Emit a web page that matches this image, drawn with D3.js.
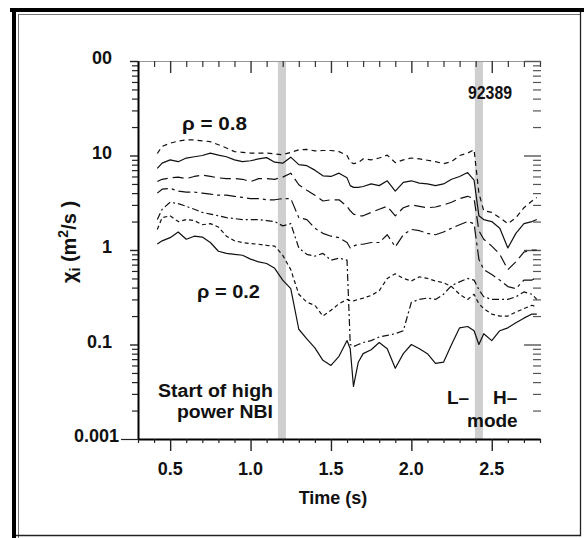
<!DOCTYPE html>
<html><head><meta charset="utf-8">
<script src="https://cdn.jsdelivr.net/npm/d3@7"></script>
<style>
body{margin:0;background:#fff}
svg{display:block}
text{font-family:"Liberation Sans",Arial,sans-serif;font-weight:bold;fill:#111}
</style>
</head><body><svg id="c" width="584" height="538"></svg>
<script>
// time grid (s)
const times=[0.42,0.45,0.50,0.55,0.60,0.65,0.70,0.75,0.80,0.85,0.90,0.95,1.00,1.05,1.10,1.15,1.20,1.25,1.30,1.35,1.40,1.45,1.50,1.55,1.60,1.62,1.64,1.67,1.70,1.75,1.80,1.85,1.90,1.95,2.00,2.05,2.10,2.15,2.20,2.25,2.30,2.35,2.39,2.42,2.45,2.50,2.55,2.60,2.65,2.70,2.75,2.78];
// chi_i (m^2/s) for each radius, top (rho=0.8) to bottom (rho=0.2)
const chiRho08=[10.5,12.5,13.5,14.2,14.6,14.6,14.3,14.0,13.0,12.0,11.0,10.8,10.6,10.6,10.6,10.4,10.2,10.8,11.5,11.6,11.2,11.3,11.3,11.0,10.0,8.6,8.2,8.4,9.2,9.0,9.4,10.1,8.4,9.0,9.4,9.2,8.9,8.6,8.2,8.6,10.0,10.6,11.5,4.0,2.6,2.5,2.2,1.9,2.2,2.8,3.3,3.6];
const chiRho07=[7.3,8.3,9.0,8.6,9.4,9.7,10.0,10.6,10.1,9.7,9.0,8.6,8.8,9.2,9.5,8.5,8.3,9.6,8.0,7.8,7.0,6.1,6.0,6.5,5.8,4.8,4.6,4.6,4.7,5.0,4.8,5.4,4.2,5.2,5.4,5.1,5.0,4.8,5.0,5.6,6.0,6.6,5.5,2.3,2.1,2.0,1.7,1.05,1.5,1.9,2.0,2.1];
const chiRho06=[5.3,5.6,5.8,5.9,5.7,6.0,6.2,6.0,5.8,5.7,5.7,5.6,5.3,5.7,5.7,5.6,5.9,6.5,4.9,4.3,3.8,3.3,3.4,3.4,2.9,2.6,2.4,2.3,2.3,2.5,2.7,2.9,2.3,2.8,3.0,2.9,2.8,2.85,3.0,3.2,3.5,3.7,3.5,1.6,1.3,1.1,0.9,0.62,0.75,0.95,1.0,1.0];
const chiRho05=[4.0,4.4,4.5,4.2,4.1,4.1,4.0,3.9,3.8,3.8,3.7,3.6,3.5,3.5,3.4,3.4,3.5,3.5,2.2,2.1,1.7,1.5,1.4,1.35,1.2,1.05,1.1,1.15,1.15,1.2,1.2,1.45,1.08,1.45,1.65,1.6,1.5,1.45,1.55,1.7,1.85,2.0,1.9,0.8,0.62,0.55,0.48,0.41,0.39,0.48,0.48,0.52];
const chiRho04=[2.1,2.7,3.2,3.1,2.9,2.7,2.5,2.4,2.3,2.2,2.15,2.1,2.1,2.1,2.05,2.0,1.8,1.9,1.05,0.9,0.86,0.92,0.78,0.82,0.78,0.10,0.095,0.10,0.105,0.11,0.12,0.125,0.13,0.14,0.28,0.30,0.31,0.30,0.34,0.42,0.46,0.50,0.48,0.38,0.32,0.30,0.30,0.30,0.32,0.36,0.34,0.30];
const chiRho03=[1.65,2.2,2.3,2.0,2.1,2.05,1.85,1.9,1.75,1.4,1.25,1.2,1.17,1.15,1.12,1.1,0.88,0.62,0.34,0.28,0.26,0.20,0.23,0.27,0.30,0.29,0.29,0.30,0.31,0.33,0.37,0.50,0.56,0.50,0.47,0.52,0.50,0.47,0.45,0.41,0.34,0.30,0.34,0.27,0.24,0.21,0.20,0.20,0.22,0.24,0.26,0.25];
const chiRho02=[1.16,1.25,1.35,1.55,1.3,1.4,1.37,1.2,0.97,0.92,0.90,0.88,0.80,0.75,0.72,0.64,0.48,0.39,0.145,0.115,0.092,0.068,0.06,0.075,0.11,0.09,0.036,0.065,0.08,0.088,0.105,0.09,0.056,0.08,0.10,0.09,0.08,0.063,0.065,0.10,0.15,0.155,0.14,0.10,0.13,0.11,0.14,0.15,0.17,0.19,0.21,0.21];
const seriesList=[chiRho08,chiRho07,chiRho06,chiRho05,chiRho04,chiRho03,chiRho02];
const dashList=["5,4",null,"11,5","12,4,3,4","7,3,2,3","4,3",null];

const yTickVals=[100,10,1,0.1,0.01];
const yTickLabels=["00","10","1","0.1","0.001"];
const xTickVals=[0.5,1.0,1.5,2.0,2.5];
const xTickLabels=["0.5","1.0","1.5","2.0","2.5"];
const bands=[[1.17,1.22],[2.395,2.445]];

const svg=d3.select("#c");
// frame
svg.append("rect").attr("x",10).attr("y",8).attr("width",574).attr("height",4).attr("fill","#000");
svg.append("rect").attr("x",12).attr("y",8).attr("width",4).attr("height",530).attr("fill","#000");
svg.append("line").attr("x1",18.5).attr("x2",18.5).attr("y1",14).attr("y2",538).attr("stroke","#777").attr("stroke-width",1);
svg.append("line").attr("x1",18).attr("x2",580).attr("y1",14.5).attr("y2",14.5).attr("stroke","#777").attr("stroke-width",1);
svg.append("line").attr("x1",580.5).attr("x2",580.5).attr("y1",12).attr("y2",536).attr("stroke","#222").attr("stroke-width",1.3);
svg.append("line").attr("x1",16).attr("x2",581).attr("y1",535.5).attr("y2",535.5).attr("stroke","#222").attr("stroke-width",1.3);

const x=d3.scaleLinear().domain([0.3,2.8]).range([138,540]);
const y=d3.scaleLog().domain([0.01,100]).range([439,61]);

// bands
svg.append("g").selectAll("rect").data(bands).join("rect")
  .attr("x",d=>x(d[0])).attr("width",d=>x(d[1])-x(d[0]))
  .attr("y",61).attr("height",439-61).attr("fill","#cfcfcf");

// ticks
const tenths=d3.range(3,29).map(i=>i/10);
const minorX=tenths.filter(v=>Math.abs(v*2-Math.round(v*2))>1e-6);
const decades=[0.01,0.1,1,10];
const minorY=[];decades.forEach(d=>{for(let m=2;m<=9;m++)minorY.push(m*d);});
const decY=[0.1,1,10,100];

function styleAxis(g,color,w){g.selectAll(".tick line").attr("stroke",color).attr("stroke-width",w);g.selectAll(".tick text").remove();}

// top axis
const gt1=svg.append("g").attr("transform","translate(0,61)").call(d3.axisTop(x).tickValues(minorX).tickSize(-6).tickSizeOuter(0));
gt1.select(".domain").attr("stroke","#999").attr("stroke-width",1);styleAxis(gt1,"#333",1.2);
const gt2=svg.append("g").attr("transform","translate(0,61)").call(d3.axisTop(x).tickValues(xTickVals).tickSize(-12).tickSizeOuter(0));
gt2.select(".domain").remove();styleAxis(gt2,"#333",1.4);

// right ticks
const gr1=svg.append("g").attr("transform","translate(541,0)").call(d3.axisRight(y).tickValues(minorY).tickSize(-8));
gr1.select(".domain").remove();styleAxis(gr1,"#555",1.2);
const gr2=svg.append("g").attr("transform","translate(541,0)").call(d3.axisRight(y).tickValues(decY).tickSize(-17));
gr2.select(".domain").remove();styleAxis(gr2,"#555",1.4);

// left axis
const gl1=svg.append("g").attr("transform","translate(138,0)").call(d3.axisLeft(y).tickValues(minorY).tickSize(6).tickSizeOuter(0));
gl1.select(".domain").attr("stroke","#000").attr("stroke-width",2);styleAxis(gl1,"#222",1.2);
const gl2=svg.append("g").attr("transform","translate(138,0)").call(d3.axisLeft(y).tickValues(decY).tickSize(8));
gl2.select(".domain").remove();styleAxis(gl2,"#222",1.4);
const gl3=svg.append("g").attr("transform","translate(138,0)").call(d3.axisLeft(y).tickValues([0.01]).tickSize(17));
gl3.select(".domain").remove();styleAxis(gl3,"#222",1.2);

// bottom axis
const gb1=svg.append("g").attr("transform","translate(0,439)").call(d3.axisBottom(x).tickValues(minorX).tickSize(4).tickSizeOuter(0));
gb1.select(".domain").attr("stroke","#000").attr("stroke-width",2.2);styleAxis(gb1,"#222",1.2);
const gb2=svg.append("g").attr("transform","translate(0,439)").call(d3.axisBottom(x).tickValues(xTickVals).tickSize(12));
gb2.select(".domain").remove();styleAxis(gb2,"#222",1.4);

// tick labels
svg.append("g").selectAll("text").data(xTickVals).join("text")
  .attr("x",d=>x(d)).attr("y",475).attr("text-anchor","middle").attr("font-size",18)
  .text((d,i)=>xTickLabels[i]);
svg.append("g").selectAll("text").data(yTickVals).join("text")
  .attr("x",(d,i)=>i===4?119:112).attr("y",d=>y(d)+3).attr("text-anchor","end").attr("font-size",18)
  .text((d,i)=>yTickLabels[i]);

// curves
const line=d3.line().x((d,i)=>x(times[i])).y(d=>y(d)).curve(d3.curveLinear);
svg.append("g").selectAll("path").data(seriesList).join("path")
  .attr("d",d=>line(d)).attr("fill","none").attr("stroke","#111").attr("stroke-width",1.2)
  .attr("stroke-linejoin","round")
  .attr("stroke-dasharray",(d,i)=>dashList[i]);

// annotations
function txt(s,xx,yy,size,anchor,len){const t=svg.append("text").attr("x",xx).attr("y",yy).attr("font-size",size).attr("text-anchor",anchor||"start").text(s);if(len)t.attr("textLength",len).attr("lengthAdjust","spacingAndGlyphs");return t;}
txt("ρ = 0.8",182,130,18,"start",65);
txt("ρ = 0.2",197,298,18,"start",63);
txt("92389",468,99,19,"start",44);
txt("Start of high",273,397,18,"end",115);
txt("power NBI",273,418,18,"end",96);
txt("L–",447,404,19,"start");
txt("H–",493,404,19,"start");
txt("mode",467,427,19,"start");
txt("Time (s)",333,504,18,"middle");

// y-axis title
const yl=svg.append("text").attr("transform","translate(76,242) rotate(-90)").attr("text-anchor","middle").attr("font-size",20);
yl.append("tspan").text("χ");
yl.append("tspan").attr("font-size",14).attr("dy",4).text("i");
yl.append("tspan").attr("dy",-4).text(" (m");
yl.append("tspan").attr("font-size",14).attr("dy",-8).text("2");
yl.append("tspan").attr("dy",8).text("/s )");
</script>
</body></html>
